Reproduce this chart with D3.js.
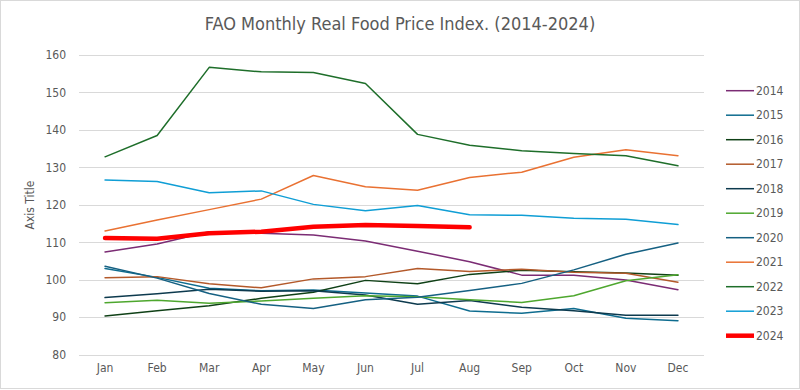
<!DOCTYPE html>
<html><head><meta charset="utf-8">
<script src="https://cdn.jsdelivr.net/npm/d3@7"></script>
<style>
html,body{margin:0;padding:0;background:#fff;}
svg text{font-family:"Liberation Sans Narrow","DejaVu Sans Condensed","Roboto",sans-serif;fill:#595959;}
</style></head>
<body><svg id="c" width="800" height="390"></svg>
<script>
const months = ["Jan","Feb","Mar","Apr","May","Jun","Jul","Aug","Sep","Oct","Nov","Dec"];
const years = ["2014","2015","2016","2017","2018","2019","2020","2021","2022","2023","2024"];
const yTicks = [80,90,100,110,120,130,140,150,160];
const v2014 = [107.4,109.5,112.8,112.4,111.9,110.3,107.6,104.8,101.2,101.2,99.9,97.3];
const v2015 = [103.0,100.6,97.7,97.0,97.2,96.4,95.6,91.6,91.0,92.3,89.7,89.0];
const v2016 = [90.3,91.7,93.0,95.0,96.6,99.8,98.9,101.4,102.5,102.1,101.8,101.2];
const v2017 = [100.5,100.8,98.9,97.8,100.2,100.8,103.0,102.2,102.8,102.0,101.7,99.3];
const v2018 = [95.2,96.2,97.4,96.9,97.0,95.9,93.4,94.4,92.6,91.7,90.5,90.5];
const v2019 = [93.8,94.5,93.7,94.3,95.0,95.7,95.4,94.6,93.9,95.7,99.7,101.3];
const v2020 = [103.6,100.4,96.3,93.4,92.3,94.6,95.3,97.1,99.0,102.6,106.8,109.8];
const v2021 = [113.0,115.9,118.7,121.5,127.8,124.8,123.9,127.3,128.7,132.7,134.7,133.1];
const v2022 = [132.8,138.5,156.7,155.5,155.3,152.4,138.8,135.9,134.4,133.7,133.1,130.4];
const v2023 = [126.6,126.2,123.2,123.7,120.1,118.4,119.8,117.3,117.2,116.4,116.1,114.7];
const v2024 = [111.1,110.9,112.4,112.8,114.1,114.6,114.3,114.0];
const seriesValues = [v2014,v2015,v2016,v2017,v2018,v2019,v2020,v2021,v2022,v2023,v2024];
const colors = ["#7b2c74","#0e6c8f","#0f4016","#b3592a","#0d3a4e","#4ea72e","#156082","#e97132","#1e6e2a","#0f9ed5","#ff0000"];

const svg = d3.select("#c");
svg.append("rect").attr("x",0.5).attr("y",0.5).attr("width",799).attr("height",388)
  .attr("fill","#fff").attr("stroke","#d9d9d9");

const x = d3.scaleBand().domain(months).range([79,704]);
const y = d3.scaleLinear().domain([80,160]).range([354.5,55]);

// gridlines
svg.append("g").selectAll("line").data(yTicks).join("line")
  .attr("x1",79).attr("x2",704).attr("y1",d=>Math.round(y(d))+0.5).attr("y2",d=>Math.round(y(d))+0.5)
  .attr("stroke","#d9d9d9").attr("stroke-width",1);

// y axis labels
const ya = svg.append("g").attr("transform","translate(79,0)")
  .call(d3.axisLeft(y).tickValues(yTicks).tickSize(0).tickPadding(13));
ya.select(".domain").remove();
ya.selectAll("text").style("font-size","12px").attr("fill","#595959");

// x axis labels
const xa = svg.append("g").attr("transform","translate(0,363)")
  .call(d3.axisBottom(x).tickSize(0).tickPadding(0));
xa.select(".domain").remove();
xa.selectAll("text").style("font-size","12px").attr("fill","#595959").attr("dy","0.71em");

// title
svg.append("text").attr("x",400).attr("y",30).attr("text-anchor","middle")
  .style("font-size","18px").text("FAO Monthly Real Food Price Index. (2014-2024)");
svg.append("text").attr("transform","translate(34,205) rotate(-90)").attr("text-anchor","middle")
  .style("font-size","12px").text("Axis Title");

const line = d3.line().x((d,i)=>x(months[i])+x.bandwidth()/2).y(d=>y(d));
const g = svg.append("g");
seriesValues.forEach((vals,k)=>{
  g.append("path").datum(vals).attr("d",line).attr("fill","none")
   .attr("stroke",colors[k]).attr("stroke-width",years[k]==="2024"?4.5:1.5)
   .attr("stroke-linejoin","round").attr("stroke-linecap","round");
});

// legend
const lg = svg.append("g");
years.forEach((yr,k)=>{
  const yy = 90.7 + k*24.5;
  lg.append("line").attr("x1",726).attr("x2",754).attr("y1",yy).attr("y2",yy)
    .attr("stroke",colors[k]).attr("stroke-width",yr==="2024"?4.5:1.5);
  lg.append("text").attr("x",756).attr("y",yy).attr("dy","0.35em").style("font-size","12px").text(yr);
});
</script></body></html>
